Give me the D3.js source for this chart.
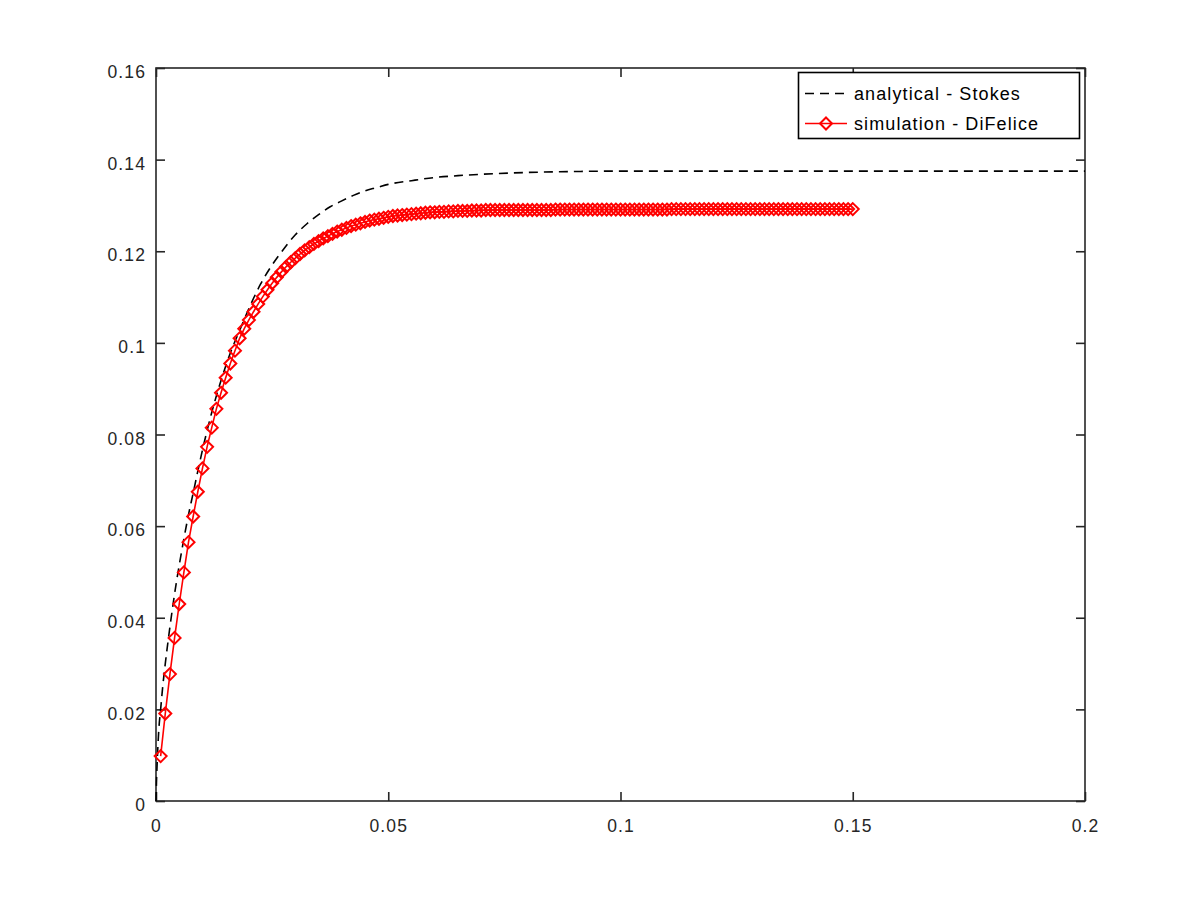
<!DOCTYPE html>
<html>
<head>
<meta charset="utf-8">
<script src="https://cdn.jsdelivr.net/npm/d3@7"></script>
<style>
  body { margin: 0; background: #fff; }
  text { font-family: "Liberation Sans", Arial, sans-serif; }
</style>
</head>
<body>
<div id="chart"></div>
<script>
// analytical - Stokes
var anaT = [0, 0.0001, 0.0003, 0.0006, 0.001, 0.0015, 0.002, 0.003, 0.004, 0.005,
  0.006, 0.007, 0.008, 0.009, 0.010, 0.012, 0.014, 0.016, 0.018, 0.020,
  0.0225, 0.025, 0.0275, 0.030, 0.0325, 0.035, 0.0375, 0.040, 0.0425, 0.045,
  0.0475, 0.050, 0.055, 0.060, 0.065, 0.070, 0.080, 0.090, 0.100, 0.150, 0.200];
var anaV = [0, 0.0040, 0.0095, 0.0155, 0.0200, 0.0255, 0.0300, 0.0380, 0.0452, 0.0515,
  0.0572, 0.0625, 0.0672, 0.0720, 0.0766, 0.0848, 0.0918, 0.0978, 0.1027, 0.1075,
  0.1128, 0.1170, 0.1205, 0.1236, 0.1260, 0.1280, 0.1297, 0.1310, 0.1322, 0.1332,
  0.1339, 0.1346, 0.1354, 0.1361, 0.1365, 0.1368, 0.1372, 0.1374, 0.1375, 0.1375, 0.1375];

// simulation - DiFelice, one sample every 0.001 from 0.001 to 0.150
var simT0 = 0.001;
var simDt = 0.001;
var simV = [
  0.0098, 0.0191, 0.0277, 0.0356, 0.0430, 0.0499, 0.0565, 0.0621, 0.0675, 0.0726,
  0.0773, 0.0815, 0.0856, 0.0891, 0.0924, 0.0955, 0.0983, 0.1010, 0.1031, 0.1050,
  0.1068, 0.1085, 0.1101, 0.1116, 0.1130, 0.1143, 0.1155, 0.1166, 0.1176, 0.1185,
  0.1194, 0.1202, 0.1209, 0.1216, 0.1222, 0.1228, 0.1233, 0.1238, 0.1243, 0.1247,
  0.1251, 0.1255, 0.1258, 0.1261, 0.1264, 0.1267, 0.1269, 0.1271, 0.1273, 0.1275,
  0.1277, 0.1278, 0.1279, 0.1280, 0.1281, 0.1282, 0.1283, 0.1284, 0.1285, 0.1285,
  0.1286, 0.1286, 0.1287, 0.1287, 0.1288, 0.1288, 0.1288, 0.1289, 0.1289, 0.1289,
  0.1290, 0.1290, 0.1290, 0.1290, 0.1290, 0.1290, 0.1290, 0.1290, 0.1290, 0.1290,
  0.1290, 0.1290, 0.1290, 0.1290, 0.1290, 0.1291, 0.1291, 0.1291, 0.1291, 0.1291,
  0.1291, 0.1291, 0.1291, 0.1291, 0.1291, 0.1291, 0.1291, 0.1291, 0.1291, 0.1291,
  0.1291, 0.1291, 0.1291, 0.1291, 0.1291, 0.1291, 0.1291, 0.1291, 0.1291, 0.1291,
  0.1292, 0.1292, 0.1292, 0.1292, 0.1292, 0.1292, 0.1292, 0.1292, 0.1292, 0.1292,
  0.1292, 0.1292, 0.1292, 0.1292, 0.1292, 0.1292, 0.1292, 0.1292, 0.1292, 0.1292,
  0.1292, 0.1292, 0.1292, 0.1292, 0.1292, 0.1292, 0.1292, 0.1292, 0.1292, 0.1292,
  0.1292, 0.1292, 0.1292, 0.1292, 0.1292, 0.1292, 0.1292, 0.1292, 0.1292, 0.1292];

var xTicks = [0, 0.05, 0.1, 0.15, 0.2];
var xTickLabels = ["0", "0.05", "0.1", "0.15", "0.2"];
var yTicks = [0, 0.02, 0.04, 0.06, 0.08, 0.1, 0.12, 0.14, 0.16];
var yTickLabels = ["0", "0.02", "0.04", "0.06", "0.08", "0.1", "0.12", "0.14", "0.16"];
var seriesNames = ["analytical - Stokes", "simulation - DiFelice"];

var w = 1200;
var h = 900;
var plotL = 156, plotR = 1085, plotT = 68, plotB = 801;
var axisColor = "#262626";
var markR = 6;

var x = d3.scaleLinear().domain([0, 0.2]).range([plotL, plotR]);
var y = d3.scaleLinear().domain([0, 0.16]).range([plotB, plotT]);

var anaData = anaT.map(function(t, i) { return [t, anaV[i]]; });
var simData = simV.map(function(v, i) { return [simT0 + i * simDt, v]; });

var svg = d3.select("#chart").append("svg")
  .attr("width", w)
  .attr("height", h);

// axes, ticks pointing inwards on all four sides
var xAxis = d3.axisBottom(x).tickValues(xTicks)
  .tickFormat(function(d, i) { return xTickLabels[i]; })
  .tickSizeInner(-9).tickSizeOuter(0).tickPadding(19);
var yAxis = d3.axisLeft(y).tickValues(yTicks)
  .tickFormat(function(d, i) { return yTickLabels[i]; })
  .tickSizeInner(-9).tickSizeOuter(0).tickPadding(10);

var gx = svg.append("g").attr("transform", "translate(0," + plotB + ")").call(xAxis);
var gy = svg.append("g").attr("transform", "translate(" + plotL + ",0)").call(yAxis);
var gxTop = svg.append("g").attr("transform", "translate(0," + plotT + ")")
  .call(d3.axisTop(x).tickValues(xTicks).tickFormat("").tickSizeInner(-9).tickSizeOuter(0));
var gyRight = svg.append("g").attr("transform", "translate(" + plotR + ",0)")
  .call(d3.axisRight(y).tickValues(yTicks).tickFormat("").tickSizeInner(-9).tickSizeOuter(0));

[gx, gy, gxTop, gyRight].forEach(function(g) {
  g.select(".domain").remove();
  g.selectAll(".tick line").attr("stroke", axisColor).attr("stroke-width", 1.6);
  g.selectAll(".tick text")
    .attr("fill", axisColor)
    .style("font-size", "17.5px")
    .style("letter-spacing", "1.1px");
});
gy.selectAll(".tick text").attr("dy", "0.55em");

svg.append("rect")
  .attr("x", plotL).attr("y", plotT)
  .attr("width", plotR - plotL).attr("height", plotB - plotT)
  .attr("fill", "none")
  .attr("stroke", axisColor)
  .attr("stroke-width", 1.6);

// analytical curve
svg.append("path")
  .datum(anaData)
  .attr("fill", "none")
  .attr("stroke", "#000")
  .attr("stroke-width", 1.6)
  .attr("stroke-dasharray", "9,6")
  .attr("d", d3.line()
    .x(function(d) { return x(d[0]); })
    .y(function(d) { return y(d[1]); })
    .curve(d3.curveMonotoneX));

// simulation line + diamond markers
svg.append("path")
  .datum(simData)
  .attr("fill", "none")
  .attr("stroke", "#ff0000")
  .attr("stroke-width", 1.6)
  .attr("d", d3.line()
    .x(function(d) { return x(d[0]); })
    .y(function(d) { return y(d[1]); }));

function diamond(cx, cy, r) {
  return "M" + cx + "," + (cy - r) + "L" + (cx + r) + "," + cy +
    "L" + cx + "," + (cy + r) + "L" + (cx - r) + "," + cy + "Z";
}

svg.append("g").selectAll("path")
  .data(simData)
  .enter()
  .append("path")
  .attr("d", function(d) { return diamond(x(d[0]), y(d[1]), markR); })
  .attr("fill", "none")
  .attr("stroke", "#ff0000")
  .attr("stroke-width", 2);

// legend
var lg = svg.append("g");
lg.append("rect")
  .attr("x", 798.5).attr("y", 72.5)
  .attr("width", 281).attr("height", 66)
  .attr("fill", "#fff")
  .attr("stroke", "#000")
  .attr("stroke-width", 1.6);

lg.append("line")
  .attr("x1", 805).attr("x2", 847).attr("y1", 93.5).attr("y2", 93.5)
  .attr("stroke", "#000").attr("stroke-width", 1.6)
  .attr("stroke-dasharray", "9,6");
lg.append("line")
  .attr("x1", 805).attr("x2", 847).attr("y1", 123.5).attr("y2", 123.5)
  .attr("stroke", "#ff0000").attr("stroke-width", 1.6);
lg.append("path")
  .attr("d", diamond(826, 123.5, markR))
  .attr("fill", "none")
  .attr("stroke", "#ff0000")
  .attr("stroke-width", 2);

lg.selectAll("text")
  .data(seriesNames)
  .enter()
  .append("text")
  .attr("x", 854)
  .attr("y", function(d, i) { return 99.5 + i * 30; })
  .attr("fill", "#000")
  .style("font-size", "18px")
  .style("letter-spacing", "1.1px")
  .text(function(d) { return d; });
</script>
</body>
</html>
